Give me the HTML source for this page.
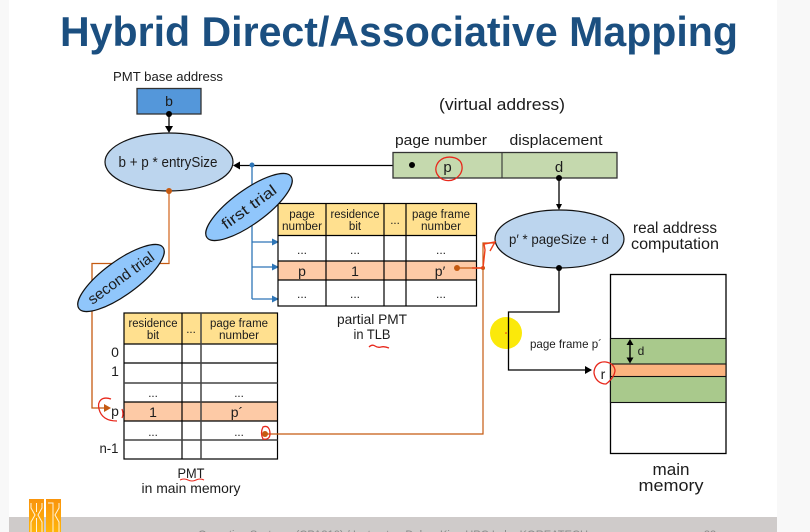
<!DOCTYPE html>
<html><head><meta charset="utf-8"><style>
html,body{margin:0;padding:0;width:810px;height:532px;overflow:hidden;background:#f8f8f8}
svg{display:block}
text{font-family:"Liberation Sans",sans-serif;fill:#1c1c1c;text-anchor:middle}
</style></head><body>
<svg width="810" height="532" viewBox="0 0 810 532" xmlns="http://www.w3.org/2000/svg">
<defs><linearGradient id="g" x1="0" y1="0" x2="0" y2="1"><stop offset="0" stop-color="#f9940c"/><stop offset="1" stop-color="#ffb40a"/></linearGradient></defs>
<rect x="9" y="0" width="768" height="532" fill="#fff"/>
<rect x="9" y="517" width="768" height="15" fill="#cfcbca"/>
<text x="399" y="46" font-size="42" font-weight="bold" style="fill:#1b4f80" textLength="678" lengthAdjust="spacingAndGlyphs">Hybrid Direct/Associative Mapping</text>
<text x="393" y="538" font-size="11" style="fill:#8a8a8a" textLength="390" lengthAdjust="spacingAndGlyphs">Operating Systems (CPA310) / Instructor: Dukyu Kim, HPC Lab., KOREATECH</text>
<text x="710" y="538" font-size="11" style="fill:#8a8a8a">22</text>

<!-- logo -->
<rect x="29" y="499" width="15" height="33" fill="url(#g)"/>
<rect x="46" y="499" width="15" height="33" fill="url(#g)"/>
<g fill="none" stroke="#fff3dc" stroke-width="1">
<path d="M31 503V508L35 515L31 522V532M42 503V508L38 515L42 522V532M36.500 503V512M36.500 518V532"/>
<path d="M48 503H53V532M59 503V508L55 515L59 522V532"/>
</g>

<!-- base -->
<text x="168" y="81" font-size="13" textLength="110" lengthAdjust="spacingAndGlyphs">PMT base address</text>
<rect x="137" y="88.500" width="64" height="25.500" fill="#5497da" stroke="#333" stroke-width="1.300"/>
<text x="169" y="106" font-size="14">b</text>
<line x1="169" y1="114" x2="169" y2="127" stroke="#444" stroke-width="1.700"/>
<circle cx="169" cy="114" r="3" fill="#000"/>
<path d="M165 126H173L169 133Z" fill="#000"/>
<ellipse cx="169" cy="162" rx="64" ry="29" fill="#bcd5ee" stroke="#111" stroke-width="1.200"/>
<text x="168" y="167" font-size="14.500" textLength="99" lengthAdjust="spacingAndGlyphs">b + p * entrySize</text>

<!-- blue connectors -->
<g stroke="#2e75b6" stroke-width="1.300" fill="none">
<path d="M252 165V299"/><path d="M252 242H274M252 267H274M252 299H274"/>
</g>
<line x1="412" y1="165.500" x2="238" y2="165.500" stroke="#000" stroke-width="1.200"/>
<g fill="#2e75b6"><circle cx="252" cy="165" r="2.500"/>
<path d="M272 238.500L279 242L272 245.500ZM272 263.500L279 267L272 270.500ZM272 295.500L279 299L272 302.500Z"/></g>
<path d="M233 165.500L240 161.500V169.500Z" fill="#000"/>

<!-- orange second trial -->
<path d="M169 191V263.500H92V408H106" fill="none" stroke="#c55a11" stroke-width="1.300"/>
<line x1="169" y1="191" x2="169" y2="263" stroke="#e29c6e" stroke-width="1.800"/>
<circle cx="169" cy="191" r="3" fill="#c55a11"/>
<path d="M104 404L111 408L104 412Z" fill="#c55a11"/>

<!-- TLB table -->
<rect x="278" y="203.500" width="199" height="32" fill="#ffe08f"/>
<rect x="278" y="261" width="199" height="19" fill="#fdcaa6"/>
<g stroke="#000" stroke-width="1.200" fill="none">
<rect x="278" y="203.500" width="198.500" height="102.500"/>
<path d="M278 235.500H476.500M278 261H476.500M278 280H476.500M326 203.500V306M384 203.500V306M406 203.500V306"/>
</g>
<g font-size="11.500">
<text x="302" y="218">page</text><text x="302" y="230" textLength="40" lengthAdjust="spacingAndGlyphs">number</text>
<text x="355" y="218" textLength="49" lengthAdjust="spacingAndGlyphs">residence</text><text x="355" y="230">bit</text>
<text x="395" y="224">...</text>
<text x="441" y="218" textLength="58" lengthAdjust="spacingAndGlyphs">page frame</text><text x="441" y="230" textLength="40" lengthAdjust="spacingAndGlyphs">number</text>
</g>
<g font-size="12">
<text x="302" y="254">...</text><text x="355" y="254">...</text><text x="441" y="254">...</text>
<text x="302" y="298">...</text><text x="355" y="298">...</text><text x="441" y="298">...</text>
</g>
<g font-size="14"><text x="302" y="276">p</text><text x="355" y="276">1</text><text x="440" y="276">p′</text></g>
<text x="372" y="324" font-size="14" textLength="70" lengthAdjust="spacingAndGlyphs">partial PMT</text>
<text x="372" y="339" font-size="14" textLength="37" lengthAdjust="spacingAndGlyphs">in TLB</text>
<path d="M369 347Q372 344 375 346T381 347T389 348" fill="none" stroke="#e8281c" stroke-width="1.300"/>

<!-- PMT table -->
<rect x="124" y="313" width="154" height="31" fill="#ffe08f"/>
<rect x="124" y="402" width="154" height="19" fill="#fdcaa6"/>
<g stroke="#000" stroke-width="1.200" fill="none">
<rect x="124" y="313" width="153.500" height="146"/>
<path d="M124 344H277.500M124 363H277.500M124 402H277.500M124 421H277.500M182 313V459"/>
<path d="M124 383H277.500M124 440H277.500M201 313V459" stroke="#444" stroke-width="1.500"/>
</g>
<g font-size="11.500">
<text x="153" y="327" textLength="49" lengthAdjust="spacingAndGlyphs">residence</text><text x="153" y="339">bit</text>
<text x="191" y="333">...</text>
<text x="239" y="327" textLength="58" lengthAdjust="spacingAndGlyphs">page frame</text><text x="239" y="339" textLength="40" lengthAdjust="spacingAndGlyphs">number</text>
<text x="153" y="397">...</text><text x="239" y="397">...</text>
<text x="153" y="436">...</text><text x="239" y="436">...</text>
</g>
<g font-size="14"><text x="153" y="417">1</text><text x="237" y="417">p´</text>
<text x="115" y="357">0</text><text x="115" y="376">1</text><text x="115" y="416">p</text><text x="109" y="453" font-size="13.500" textLength="19" lengthAdjust="spacingAndGlyphs">n-1</text></g>
<text x="191" y="478" font-size="14" textLength="27" lengthAdjust="spacingAndGlyphs">PMT</text>
<text x="191" y="493" font-size="14" textLength="99" lengthAdjust="spacingAndGlyphs">in main memory</text>
<path d="M180 480Q184 478 188 480T196 480T204 480" fill="none" stroke="#e8281c" stroke-width="1"/>

<!-- rotated ellipses -->
<g transform="rotate(-36 249 207)"><ellipse cx="249" cy="207" rx="52" ry="17" fill="#90c6fb" stroke="#111" stroke-width="1.200"/>
<text x="249" y="212" font-size="15" textLength="64" lengthAdjust="spacingAndGlyphs">first trial</text></g>
<g transform="rotate(-36 121 278)"><ellipse cx="121" cy="278" rx="52" ry="17" fill="#90c6fb" stroke="#111" stroke-width="1.200"/>
<text x="121" y="283" font-size="15" textLength="78" lengthAdjust="spacingAndGlyphs">second trial</text></g>

<!-- Virtual address -->
<text x="502" y="110" font-size="16.500" textLength="126" lengthAdjust="spacingAndGlyphs">(virtual address)</text>
<text x="441" y="145" font-size="15" textLength="92" lengthAdjust="spacingAndGlyphs">page number</text>
<text x="556" y="145" font-size="15" textLength="93" lengthAdjust="spacingAndGlyphs">displacement</text>
<rect x="393" y="152.500" width="224" height="25.500" fill="#c5d9ae" stroke="#333" stroke-width="1.300"/>
<line x1="502" y1="152.500" x2="502" y2="178" stroke="#333" stroke-width="1.100"/>
<text x="447.500" y="172" font-size="15">p</text>
<text x="559" y="172" font-size="15">d</text>
<circle cx="412" cy="165" r="3" fill="#000"/>
<line x1="559" y1="178" x2="559" y2="205" stroke="#000" stroke-width="1.300"/>
<circle cx="559" cy="178" r="3" fill="#000"/>
<path d="M556 204H562L559 210Z" fill="#000"/>
<path d="M444 158C450 156 461 157 462 166C463 173 458 177 455 179C449 182 441 181 437 174C434 168 437 161 444 158Z" fill="none" stroke="#e8281c" stroke-width="1.300"/>

<!-- real address ellipse -->
<ellipse cx="559.500" cy="239" rx="64.500" ry="29" fill="#bcd5ee" stroke="#111" stroke-width="1.200"/>
<text x="559" y="244" font-size="14" textLength="100" lengthAdjust="spacingAndGlyphs">p′ * pageSize + d</text>
<text x="675" y="233" font-size="15.500" textLength="84" lengthAdjust="spacingAndGlyphs">real address</text>
<text x="675" y="249" font-size="15.500" textLength="88" lengthAdjust="spacingAndGlyphs">computation</text>

<!-- orange to real -->
<path d="M457 268H483V243H495M483 268V434H265" fill="none" stroke="#c55a11" stroke-width="1.200"/>
<circle cx="457" cy="268" r="3" fill="#c55a11"/>
<circle cx="483" cy="268" r="2" fill="#c55a11"/>
<circle cx="265" cy="434" r="3" fill="#c55a11"/>
<path d="M472 268H483L485 250L484 244L495 242L490 251" fill="none" stroke="#f0401a" stroke-width="1.400"/>
<path d="M111 399C102 396 97 401 99 409C101 417 107 421 117 421M122 409Q124 414 122 418" fill="none" stroke="#e8281c" stroke-width="1.300"/>
<path d="M263 427C268 425 270 429 270 434C270 438 267 440 263 439C261 435 261 431 263 427Z" fill="none" stroke="#e8281c" stroke-width="1.300"/>

<!-- connector to memory -->
<circle cx="506" cy="333" r="16" fill="#fbe90a"/>
<path d="M559 268V312H508.500V370H588" fill="none" stroke="#000" stroke-width="1.300"/>
<circle cx="559" cy="268" r="3" fill="#000"/>
<path d="M585 366L592 370L585 374Z" fill="#000"/>
<circle cx="506" cy="333" r="0.800" fill="#e8281c"/>
<text x="566" y="348" font-size="12" textLength="72" lengthAdjust="spacingAndGlyphs">page frame p´</text>

<!-- main memory -->
<rect x="610.500" y="274.500" width="115.500" height="179" fill="#fff" stroke="#000" stroke-width="1.300"/>
<rect x="610.500" y="338.500" width="115.500" height="64" fill="#a9c98c" stroke="#111" stroke-width="1.100"/>
<rect x="610.500" y="364" width="115.500" height="12.500" fill="#fbb47f" stroke="#111" stroke-width="1.100"/>
<path d="M630 342V361" stroke="#000" stroke-width="1.400"/>
<path d="M630 339L633.500 345H626.500ZM630 363.500L633.500 357.500H626.500Z" fill="#000"/>
<text x="641" y="355" font-size="12">d</text>
<text x="603" y="379" font-size="14">r</text>
<path d="M606 362C598 361 594 367 594 373C595 380 600 384 606 384Q614 378 615 371C615 367 612 363 606 362Z" fill="none" stroke="#e8281c" stroke-width="1.300"/>
<text x="671" y="475" font-size="17" textLength="37" lengthAdjust="spacingAndGlyphs">main</text>
<text x="671" y="491" font-size="17" textLength="65" lengthAdjust="spacingAndGlyphs">memory</text>
</svg>
</body></html>
